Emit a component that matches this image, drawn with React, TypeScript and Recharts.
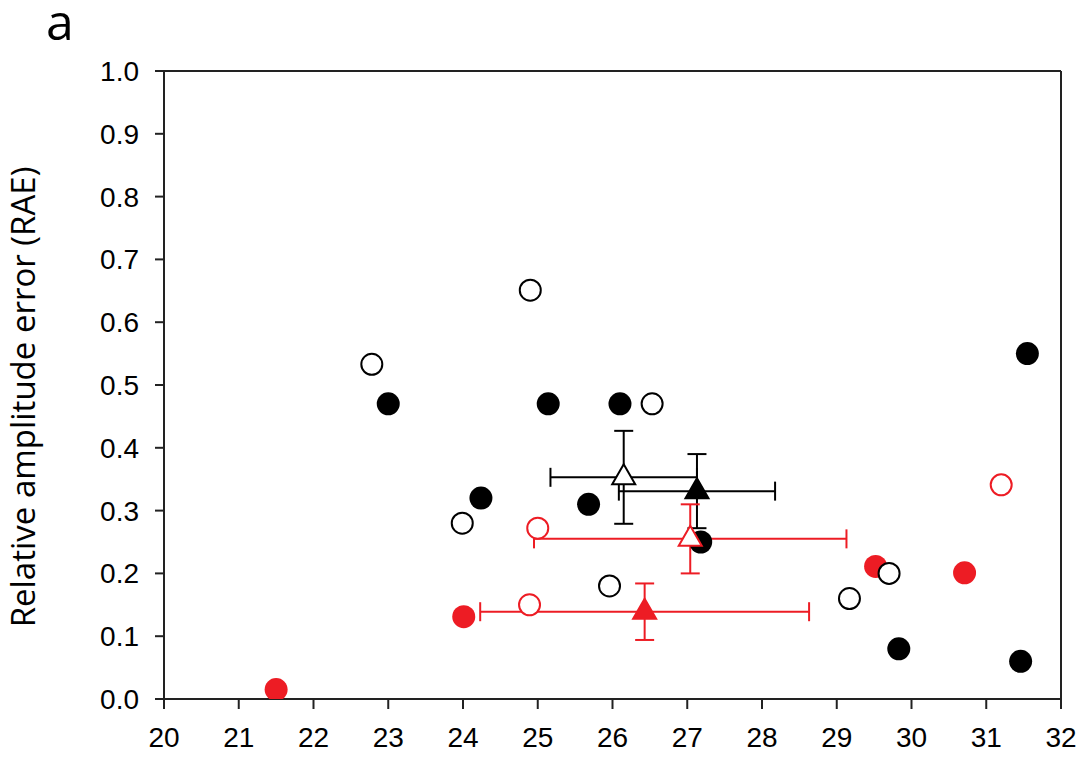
import React from 'react';
import {
  ScatterChart,
  Scatter,
  XAxis,
  YAxis,
  ErrorBar,
  ReferenceLine
} from 'recharts';

const RED = '#ED1C24';

// individual points
const blackFilled = [
  { x: 23.0, y: 0.47 },
  { x: 24.24, y: 0.32 },
  { x: 25.14, y: 0.47 },
  { x: 25.68, y: 0.31 },
  { x: 26.1, y: 0.47 },
  { x: 27.18, y: 0.25 },
  { x: 29.83, y: 0.08 },
  { x: 31.55, y: 0.55 },
  { x: 31.46, y: 0.06 }
];

const blackOpen = [
  { x: 22.78, y: 0.533 },
  { x: 24.9, y: 0.651 },
  { x: 23.99, y: 0.28 },
  { x: 26.53, y: 0.47 },
  { x: 25.96, y: 0.18 },
  { x: 29.17, y: 0.16 },
  { x: 29.7, y: 0.2 }
];

const redFilled = [
  { x: 21.5, y: 0.015 },
  { x: 24.01, y: 0.131 },
  { x: 29.52, y: 0.211 },
  { x: 30.71, y: 0.201 }
];

const redOpen = [
  { x: 25.0, y: 0.272 },
  { x: 24.89, y: 0.15 },
  { x: 31.2, y: 0.341 }
];

// means with error bars
const blackOpenMean = [{ x: 26.15, y: 0.353, ex: 0.98, ey: 0.074 }];
const blackFilledMean = [{ x: 27.13, y: 0.331, ex: 1.045, ey: 0.059 }];
const redOpenMean = [{ x: 27.04, y: 0.255, ex: 2.09, ey: 0.055 }];
const redFilledMean = [{ x: 26.43, y: 0.139, ex: 2.2, ey: 0.045 }];

const xTicks = [20, 21, 22, 23, 24, 25, 26, 27, 28, 29, 30, 31, 32];
const yTicks = [0, 0.1, 0.2, 0.3, 0.4, 0.5, 0.6, 0.7, 0.8, 0.9, 1.0];

const dot = (fill: string, stroke: string) => (props: any) => {
  const { cx, cy } = props;
  return <circle cx={cx} cy={cy} r={fill === 'none' ? 10.5 : 11.5} fill={fill === 'none' ? '#fff' : fill} stroke={stroke} strokeWidth={fill === 'none' ? 2 : 0} />;
};

const tri = (fill: string, stroke: string) => (props: any) => {
  const { cx, cy } = props;
  const pts = `${cx},${cy - 13} ${cx - 11.5},${cy + 7} ${cx + 11.5},${cy + 7}`;
  return <polygon points={pts} fill={fill} stroke={stroke} strokeWidth={2} strokeLinejoin="miter" />;
};

const tickStyle = { fontSize: 28, fill: '#000', fontFamily: '"Liberation Sans", Arial, sans-serif' };
const axisLine = { stroke: '#222', strokeWidth: 2 };

export default function App() {
  return (
    <div style={{ position: 'absolute', left: 0, top: 0, width: 1081, height: 759, background: '#fff' }}>
      <ScatterChart width={1081} height={759} margin={{ top: 71, right: 20, bottom: 0, left: 0 }}>
        <XAxis
          type="number"
          dataKey="x"
          domain={[20, 32]}
          ticks={xTicks}
          allowDataOverflow
          height={60}
          tickSize={10}
          tickMargin={18}
          tick={tickStyle}
          axisLine={axisLine}
          tickLine={axisLine}
        />
        <YAxis
          type="number"
          dataKey="y"
          domain={[0, 1]}
          ticks={yTicks}
          allowDataOverflow
          width={164}
          tickSize={9}
          tickMargin={16}
          tickFormatter={(v: number) => v.toFixed(1)}
          tick={tickStyle}
          axisLine={axisLine}
          tickLine={axisLine}
        />
        <ReferenceLine y={1} stroke="#222" strokeWidth={2} />
        <ReferenceLine x={32} stroke="#222" strokeWidth={2} />
        <Scatter data={redFilled} shape={dot(RED, RED)} isAnimationActive={false} />
        <Scatter data={blackFilled} shape={dot('#000', '#000')} isAnimationActive={false} />
        <Scatter data={blackOpen} shape={dot('none', '#000')} isAnimationActive={false} />
        <Scatter data={redOpen} shape={dot('none', RED)} isAnimationActive={false} />
        <Scatter data={blackOpenMean} shape={tri('#fff', '#000')} isAnimationActive={false}>
          <ErrorBar dataKey="ex" direction="x" width={9.5} stroke="#000" strokeWidth={2} />
          <ErrorBar dataKey="ey" direction="y" width={9.5} stroke="#000" strokeWidth={2} />
        </Scatter>
        <Scatter data={blackFilledMean} shape={tri('#000', '#000')} isAnimationActive={false}>
          <ErrorBar dataKey="ex" direction="x" width={9.5} stroke="#000" strokeWidth={2} />
          <ErrorBar dataKey="ey" direction="y" width={9.5} stroke="#000" strokeWidth={2} />
        </Scatter>
        <Scatter data={redOpenMean} shape={tri('#fff', RED)} isAnimationActive={false}>
          <ErrorBar dataKey="ex" direction="x" width={9.5} stroke={RED} strokeWidth={2} />
          <ErrorBar dataKey="ey" direction="y" width={9.5} stroke={RED} strokeWidth={2} />
        </Scatter>
        <Scatter data={redFilledMean} shape={tri(RED, RED)} isAnimationActive={false}>
          <ErrorBar dataKey="ex" direction="x" width={9.5} stroke={RED} strokeWidth={2} />
          <ErrorBar dataKey="ey" direction="y" width={9.5} stroke={RED} strokeWidth={2} />
        </Scatter>
      </ScatterChart>
      <svg width={1081} height={759} style={{ position: 'absolute', left: 0, top: 0, pointerEvents: 'none' }}>
        <text x={46} y={40} fontSize={50} fontFamily='"Open Sans", sans-serif' fill="#000">a</text>
        <text
          x={35}
          y={397}
          transform="rotate(-90 35 397)"
          textAnchor="middle"
          fontSize={33}
          fontFamily='"Open Sans", sans-serif'
          fill="#000"
        >
          Relative amplitude error (RAE)
        </text>
      </svg>
    </div>
  );
}
